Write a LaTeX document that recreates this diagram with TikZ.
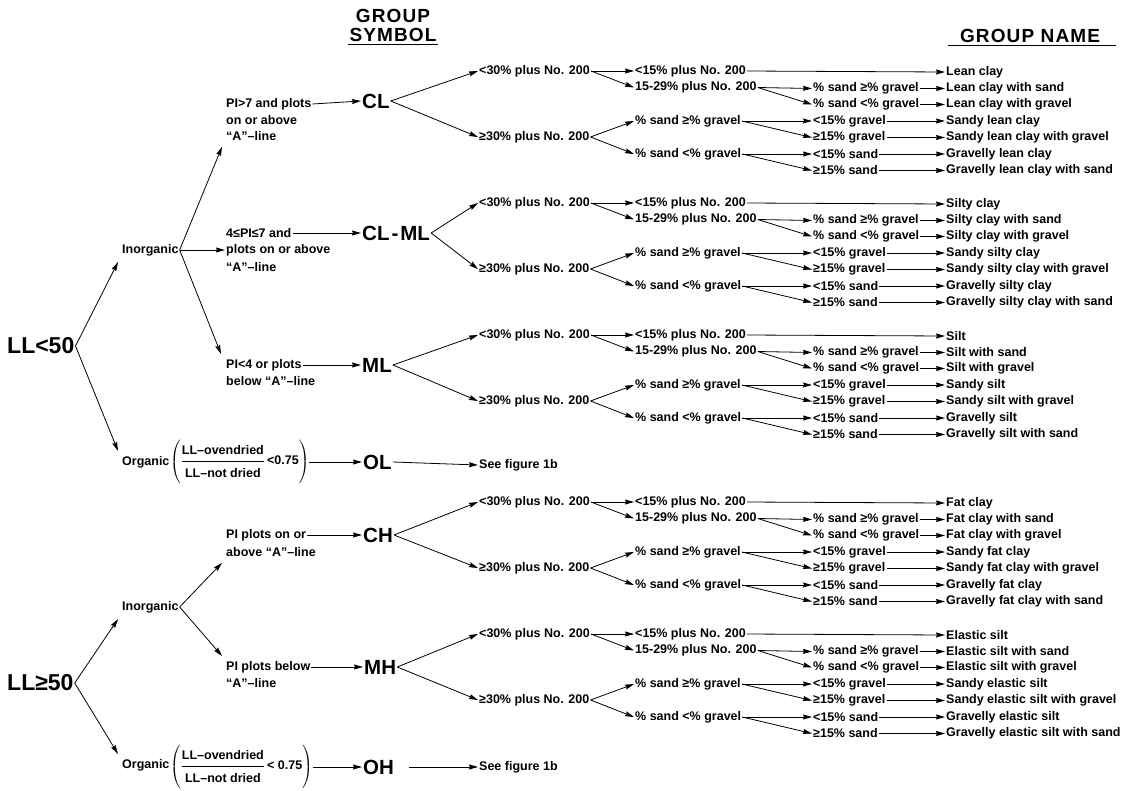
\documentclass[tikz,border=0pt]{standalone}
\usepackage{amsmath}
\usepackage{fontspec}
\setmainfont{Liberation Sans}
\usetikzlibrary{arrows.meta}
\tikzset{
 txt/.style={anchor=west, inner sep=1pt, font=\fontsize{12.5}{14}\selectfont\bfseries},
 big/.style={anchor=west, inner sep=1pt, font=\fontsize{20.5}{24}\selectfont\bfseries},
 llbig/.style={anchor=west, inner sep=1pt, font=\fontsize{23}{26}\selectfont\bfseries},
 hdr/.style={anchor=center, inner sep=1pt, font=\fontsize{19}{22}\selectfont\bfseries\addfontfeature{LetterSpace=6}},
 arr/.style={draw, line width=0.8pt, -{Stealth[length=9pt,width=5pt,inset=1pt]}},
 uline/.style={line width=1.6pt}
}
\newcommand\soilgrp[9]{%
\node[txt] (#1a) at (478,#2-1) {<30\% plus No. 200};
\node[txt] (#1b) at (478,#2+65) {≥30\% plus No. 200};
\node[txt] (#1c) at (634,#2-1) {<15\% plus No. 200};
\node[txt] (#1d) at (634,#2+15.5) {15-29\% plus No. 200};
\node[txt] (#1e) at (634,#2+49) {\% sand ≥\% gravel};
\node[txt] (#1f) at (634,#2+82) {\% sand <\% gravel};
\node[txt] (#1g) at (812,#2+16.5) {\% sand ≥\% gravel};
\node[txt] (#1h) at (812,#2+32.5) {\% sand <\% gravel};
\node[txt] (#1i) at (812,#2+49) {<15\% gravel};
\node[txt] (#1j) at (812,#2+65.5) {≥15\% gravel};
\node[txt] (#1k) at (812,#2+82) {<15\% sand};
\node[txt] (#1l) at (812,#2+98.5) {≥15\% sand};
\node[txt] (#1n0) at (945,#2) {#3};
\node[txt] (#1n1) at (945,#2+16.5) {#4};
\node[txt] (#1n2) at (945,#2+32.5) {#5};
\node[txt] (#1n3) at (945,#2+49) {#6};
\node[txt] (#1n4) at (945,#2+65.5) {#7};
\node[txt] (#1n5) at (945,#2+82) {#8};
\node[txt] (#1n6) at (945,#2+98.5) {#9};
\draw[arr] (#1sym.east) -- (#1a.west);
\draw[arr] (#1sym.east) -- (#1b.west);
\draw[arr] (#1a.east) -- (#1c.west);
\draw[arr] (#1a.east) -- (#1d.west);
\draw[arr] (#1b.east) -- (#1e.west);
\draw[arr] (#1b.east) -- (#1f.west);
\draw[arr] (#1c.east) -- (#1n0.west);
\draw[arr] (#1d.east) -- (#1g.west);
\draw[arr] (#1d.east) -- (#1h.west);
\draw[arr] (#1e.east) -- (#1i.west);
\draw[arr] (#1e.east) -- (#1j.west);
\draw[arr] (#1f.east) -- (#1k.west);
\draw[arr] (#1f.east) -- (#1l.west);
\draw[arr] (#1g.east) -- (#1n1.west);
\draw[arr] (#1h.east) -- (#1n2.west);
\draw[arr] (#1i.east) -- (#1n3.west);
\draw[arr] (#1j.east) -- (#1n4.west);
\draw[arr] (#1k.east) -- (#1n5.west);
\draw[arr] (#1l.east) -- (#1n6.west);
}
\newcommand\llratio[1]{$\displaystyle\left(\vrule height 19pt depth 19pt width 0pt\genfrac{}{}{1.2pt}{}{\hbox{LL--ovendried\vrule height 11pt depth 3pt width 0pt}}{\hbox{\vrule height 11pt depth 3pt width 0pt LL--not dried}}\hbox{#1}\right)$}
\begin{document}
\begin{tikzpicture}[x=1pt,y=-1pt]
\useasboundingbox (0,0) rectangle (1121,790);
% headers
\node[hdr] (hg) at (393,15.5) {GROUP};
\node[hdr] (hs) at (393,34.5) {SYMBOL};
\draw[uline] ([yshift=-2pt]hs.south west) -- ([yshift=-2pt]hs.south east);
\node[hdr] (hn) at (1030,35.5) {GROUP NAME};
\draw[uline] ([shift={(-11pt,-2pt)}]hn.south west) -- ([shift={(15pt,-2pt)}]hn.south east);
% liquid limit
\node[llbig] (LL1) at (6,346) {LL<50};
\node[llbig] (LL2) at (6,683) {LL≥50};
\node[txt] (in1) at (121,250) {Inorganic};
\node[txt] (og1) at (121,462) {Organic};
\node[txt] (in2) at (121,607) {Inorganic};
\node[txt] (og2) at (121,765) {Organic};
\draw[arr] (LL1.east) -- ([shift={(-3pt,-5pt)}]in1.south west);
\draw[arr] (LL1.east) -- ([shift={(-3pt,4pt)}]og1.north west);
\draw[arr] (LL2.east) -- ([shift={(-3pt,-5pt)}]in2.south west);
\draw[arr] (LL2.east) -- ([shift={(-3pt,4pt)}]og2.north west);
% criteria blocks
\node[txt] (a1) at (225,104) {PI>7 and plots};
\node[txt] (a2) at (225,120) {on or above};
\node[txt] (a3) at (225,136) {``A''--line};
\node[txt] (b1) at (225,233) {4≤PI≤7 and};
\node[txt] (b2) at (225,250) {plots on or above};
\node[txt] (b3) at (225,267) {``A''--line};
\node[txt] (c1) at (225,365) {PI<4 or plots};
\node[txt] (c2) at (225,381) {below ``A''--line};
\node[txt] (d1) at (225,535) {PI plots on or};
\node[txt] (d2) at (225,552) {above ``A''--line};
\node[txt] (e1) at (225,667) {PI plots below};
\node[txt] (e2) at (225,683) {``A''--line};
\draw[arr] (in1.east) -- ([shift={(-3pt,-5pt)}]a3.south west);
\draw[arr] (in1.east) -- (b2.west);
\draw[arr] (in1.east) -- ([shift={(-4pt,4pt)}]c1.north west);
\draw[arr] (in2.east) -- ([shift={(-3pt,-5pt)}]d2.south west);
\draw[arr] (in2.east) -- ([shift={(-3pt,4pt)}]e1.north west);
% group symbols
\node[big] (CLsym) at (361,101) {CL};
\node[big] (CLMLsym) at (361,233) {CL\kern2pt-\kern2pt ML};
\node[big] (MLsym) at (361,365) {ML};
\node[big] (OLsym) at (362,462) {OL};
\node[big] (CHsym) at (362,535) {CH};
\node[big] (MHsym) at (363,667) {MH};
\node[big] (OHsym) at (362,767) {OH};
\draw[arr] (a1.east) -- (CLsym.west);
\draw[arr] (b1.east) -- (CLMLsym.west);
\draw[arr] (c1.east) -- (MLsym.west);
\draw[arr] (d1.east) -- (CHsym.west);
\draw[arr] (e1.east) -- (MHsym.west);
% organic ratios
\node[txt, inner sep=0pt] (f1) at (170,462) {\llratio{\,<0.75}};
\node[txt, inner sep=0pt] (f2) at (170,767) {\llratio{\,< 0.75}};
\draw[arr] (f1.east) -- (OLsym.west);
\draw[arr] (f2.east) -- (OHsym.west);
\node[txt] (see1) at (478,465) {See figure 1b};
\node[txt] (see2) at (478,767) {See figure 1b};
\draw[arr] (OLsym.east) -- (see1.west);
\draw[arr] ([xshift=14pt]OHsym.east) -- (see2.west);
% group branches
\soilgrp{CL}{72}{Lean clay}{Lean clay with sand}{Lean clay with gravel}{Sandy lean clay}{Sandy lean clay with gravel}{Gravelly lean clay}{Gravelly lean clay with sand}
\soilgrp{CLML}{204}{Silty clay}{Silty clay with sand}{Silty clay with gravel}{Sandy silty clay}{Sandy silty clay with gravel}{Gravelly silty clay}{Gravelly silty clay with sand}
\soilgrp{ML}{336}{Silt}{Silt with sand}{Silt with gravel}{Sandy silt}{Sandy silt with gravel}{Gravelly silt}{Gravelly silt with sand}
\soilgrp{CH}{503}{Fat clay}{Fat clay with sand}{Fat clay with gravel}{Sandy fat clay}{Sandy fat clay with gravel}{Gravelly fat clay}{Gravelly fat clay with sand}
\soilgrp{MH}{635}{Elastic silt}{Elastic silt with sand}{Elastic silt with gravel}{Sandy elastic silt}{Sandy elastic silt with gravel}{Gravelly elastic silt}{Gravelly elastic silt with sand}
\end{tikzpicture}
\end{document}
